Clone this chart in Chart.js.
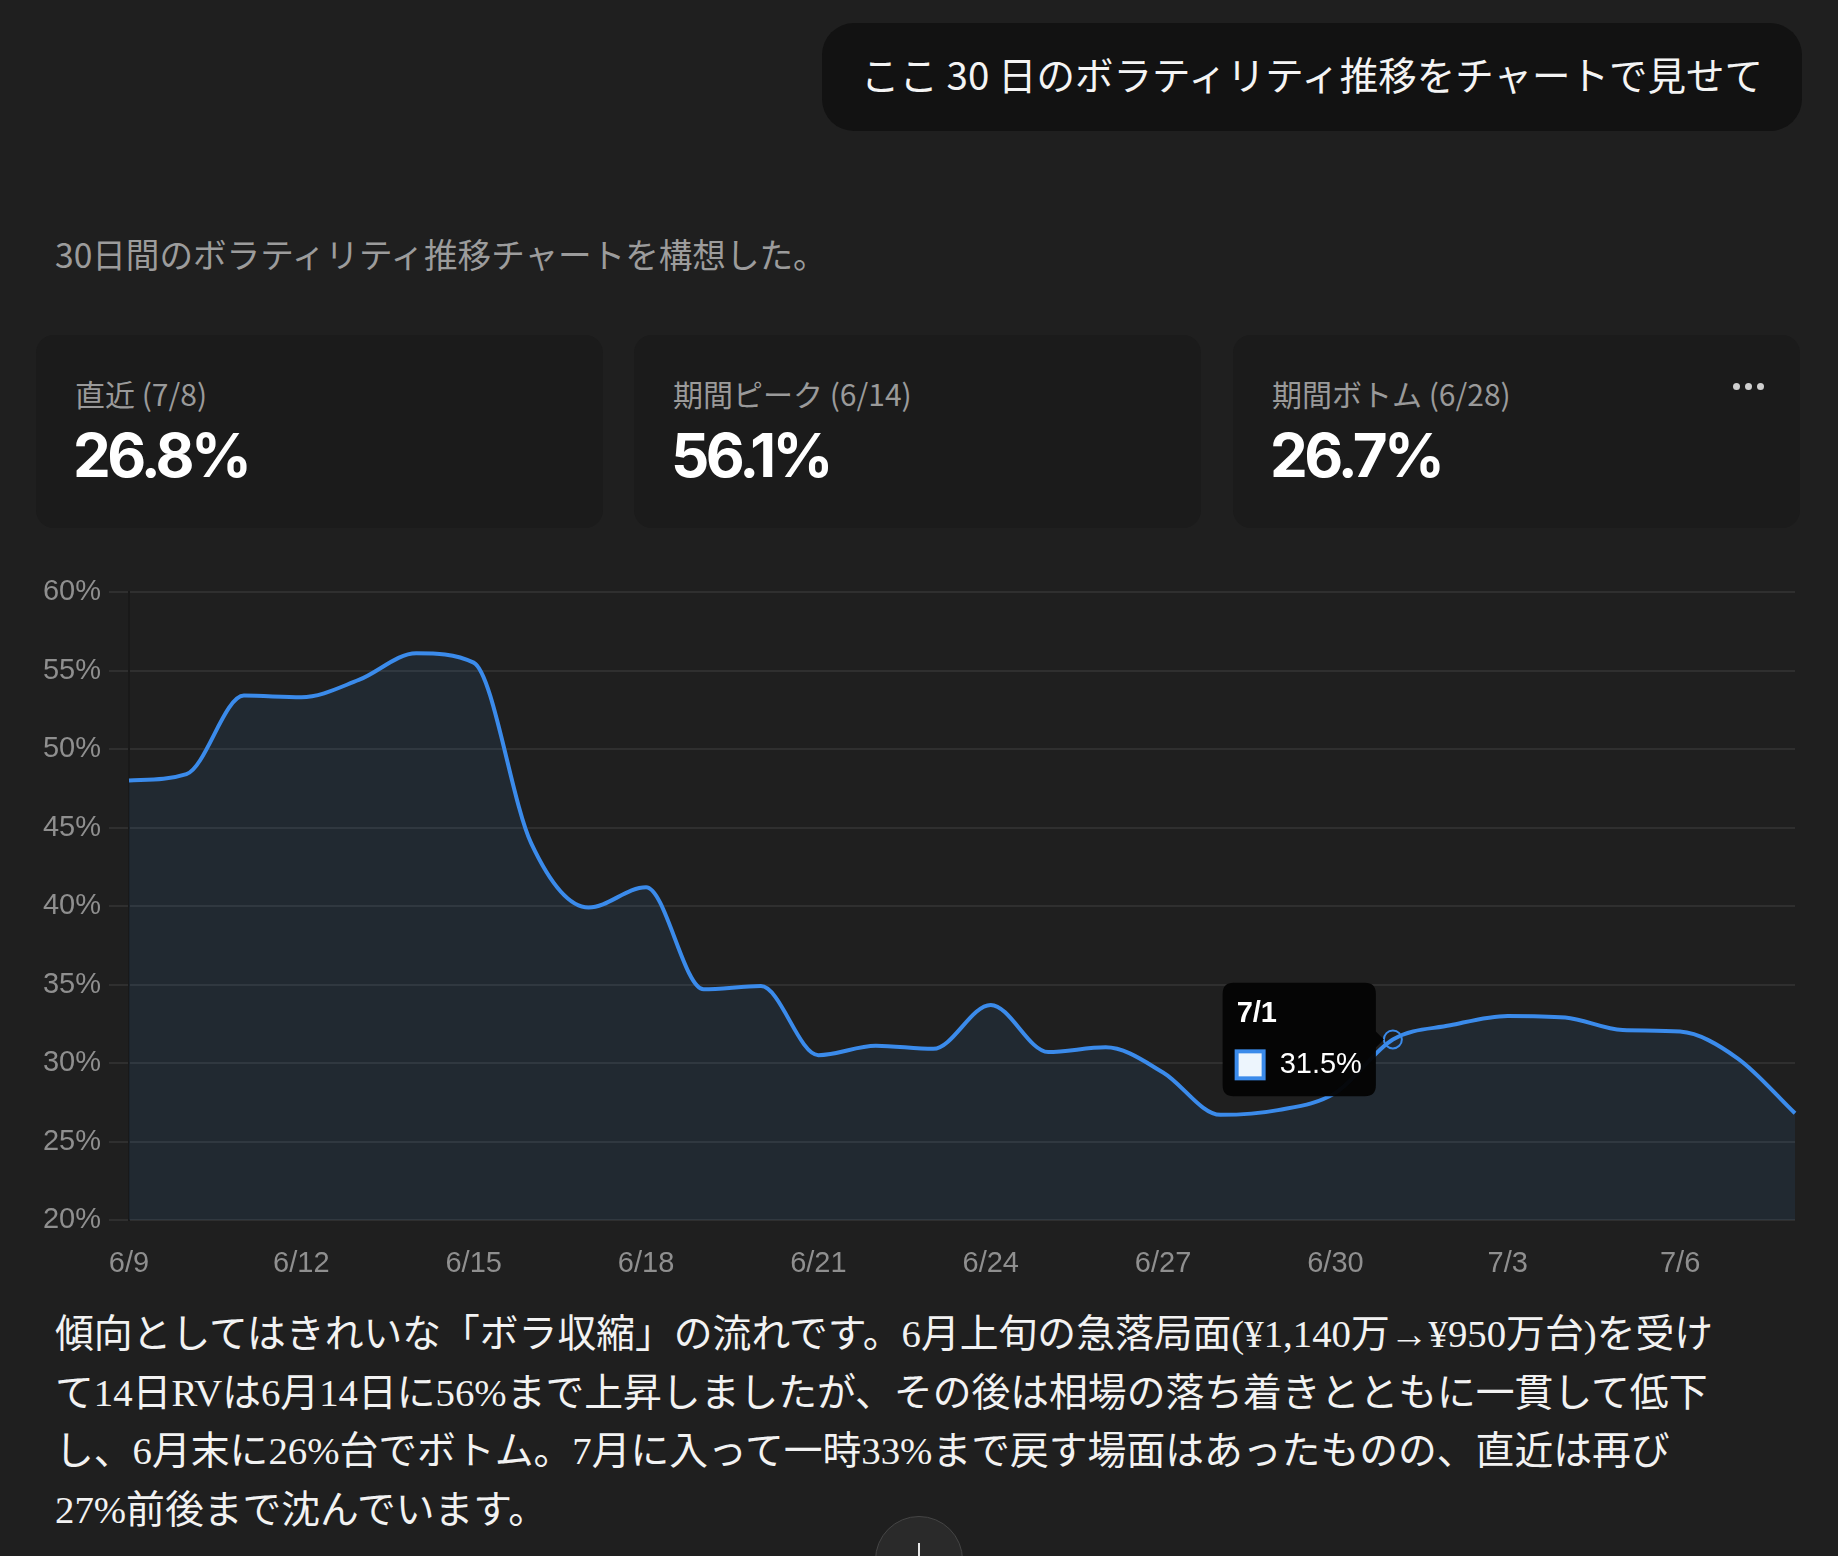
<!DOCTYPE html>
<html lang="ja">
<head>
<meta charset="utf-8">
<title>ボラティリティ推移</title>
<script src="https://cdn.jsdelivr.net/npm/chart.js"></script>
<style>
  html, body { margin: 0; padding: 0; }
  body {
    width: 1838px; height: 1556px; overflow: hidden; position: relative;
    background: #1f1f1f; color: #f2f2f2;
    font-family: "Noto Sans CJK JP", "Noto Sans", sans-serif;
  }
  .bubble {
    position: absolute; left: 822px; top: 23px; width: 980px; height: 108px;
    background: #121212; border-radius: 32px;
    font-size: 38.5px; line-height: 100px; text-align: center; color: #f4f4f4;
    white-space: nowrap;
  }
  .lead {
    position: absolute; left: 55px; top: 230px;
    font-size: 33.6px; line-height: 48px; color: #9c9c9c; white-space: nowrap;
  }
  .card {
    position: absolute; top: 335px; width: 567px; height: 193px;
    background: #1b1b1b; border-radius: 18px;
  }
  .card .lbl {
    position: absolute; left: 39px; top: 38px;
    font-size: 30px; line-height: 40px; color: #9a9a9a; white-space: nowrap;
  }
  .card .val {
    position: absolute; left: 37px; top: 84px;
    font-family: Inter, "Noto Sans", sans-serif; font-weight: 700;
    font-size: 60px; line-height: 72px; letter-spacing: -3.6px; color: #ffffff;
  }
  .dots { position: absolute; right: 36px; top: 36px; }
  .dots span {
    display: inline-block; width: 7px; height: 7px; border-radius: 50%;
    background: #cfcfcf; margin-left: 5px;
  }
  #chart-box { position: absolute; left: 0; top: 560px; width: 1838px; height: 720px; }
  .note {
    position: absolute; left: 55px; top: 1305px;
    font-family: "Liberation Serif", "Noto Sans CJK JP", serif;
    font-size: 38.8px; line-height: 58.5px; color: #f2f2f2; white-space: nowrap;
  }
  .down {
    position: absolute; left: 875px; top: 1516px; width: 86px; height: 86px;
    border-radius: 50%; background: #2a2a2a; border: 1px solid #454545;
  }
  .down:after {
    content: ""; position: absolute; left: 42px; top: 26px; width: 2px; height: 40px; background: #e8e8e8;
  }
</style>
</head>
<body>

<div class="bubble">ここ 30 日のボラティリティ推移をチャートで見せて</div>
<div class="lead">30日間のボラティリティ推移チャートを構想した。</div>

<div class="card" style="left:36px">
  <div class="lbl">直近 (7/8)</div>
  <div class="val">26.8%</div>
</div>
<div class="card" style="left:634px">
  <div class="lbl">期間ピーク (6/14)</div>
  <div class="val">56.1%</div>
</div>
<div class="card" style="left:1233px">
  <div class="lbl">期間ボトム (6/28)</div>
  <div class="val">26.7%</div>
  <div class="dots"><span></span><span></span><span></span></div>
</div>

<div id="chart-box"><canvas id="vol_chart_canvas"></canvas></div>

<div class="note">傾向としてはきれいな「ボラ収縮」の流れです。6月上旬の急落局面(¥1,140万→¥950万台)を受け<br>て14日RVは6月14日に56%まで上昇しましたが、その後は相場の落ち着きとともに一貫して低下<br>し、6月末に26%台でボトム。7月に入って一時33%まで戻す場面はあったものの、直近は再び<br>27%前後まで沈んでいます。</div>

<div class="down"></div>

<script>
// dates (6/9 - 7/8)
var dates = ["6/9","6/10","6/11","6/12","6/13","6/14","6/15","6/16","6/17","6/18",
	"6/19","6/20","6/21","6/22","6/23","6/24","6/25","6/26","6/27","6/28",
	"6/29","6/30","7/1","7/2","7/3","7/4","7/5","7/6","7/7","7/8"];

// 14-day realized volatility, %
var vol_values = [48.0, 48.4, 53.4, 53.3, 54.4, 56.1, 55.5, 44.0, 39.9, 41.2,
	34.7, 34.9, 30.5, 31.1, 30.9, 33.7, 30.7, 31.0, 29.4, 26.7,
	27.0, 28.1, 31.5, 32.4, 33.0, 32.9, 32.1, 32.0, 30.3, 26.8];

// y axis
var y_min = 20;
var y_max = 60;
var y_step = 5;

// tooltip shown on this date
var active_date = "7/1";

var line_color = "#3b8beb";
var tick_color = "#8f8f8f";
var tick_font = { family: "'Liberation Sans', Arial, sans-serif", size: 29 };

var vol_canvas = document.getElementById("vol_chart_canvas");

var vol_chart = new Chart(vol_canvas, {
	type: 'line',
	data: {
		labels: dates,
		datasets: [
			{
				label: "14日RV",
				data: vol_values,
				borderColor: line_color,
				backgroundColor: "rgba(59,139,235,0.09)",
				borderWidth: 4,
				fill: 'origin',
				cubicInterpolationMode: 'monotone',
				pointRadius: 0,
				pointHoverRadius: 9,
				pointHoverBorderWidth: 2,
				pointHoverBorderColor: line_color,
				pointHoverBackgroundColor: "rgba(0,0,0,0)"
			}
		]
	},
	options: {
		responsive: true,
		maintainAspectRatio: false,
		animation: false,
		layout: { padding: { top: 32, right: 43, left: 0, bottom: 0 } },
		interaction: { mode: 'index', intersect: false },
		plugins: {
			legend: { display: false },
			tooltip: {
				xAlign: 'right',
				yAlign: 'center',
				backgroundColor: "rgba(4,4,4,0.97)",
				titleColor: "#ffffff",
				bodyColor: "#ffffff",
				titleFont: { family: "'Liberation Sans', Arial, sans-serif", size: 29, weight: 'bold' },
				bodyFont: { family: "'Liberation Sans', Arial, sans-serif", size: 29 },
				titleMarginBottom: 16,
				padding: 14,
				cornerRadius: 11,
				caretSize: 8,
				caretPadding: 9,
				boxWidth: 27,
				boxHeight: 27,
				boxPadding: 14,
				callbacks: {
					label: function(ctx){
						return ctx.parsed.y.toFixed(1) + "%";
					}
				}
			}
		},
		scales: {
			x: {
				grid: { display: false },
				border: { display: false },
				afterFit: function(scale){ scale.height = 60; },
				ticks: {
					autoSkip: false,
					maxRotation: 0,
					padding: 19,
					color: tick_color,
					font: tick_font,
					callback: function(val, i){
						return i % 3 === 0 ? dates[i] : "";
					}
				}
			},
			y: {
				min: y_min,
				max: y_max,
				afterFit: function(scale){ scale.width = 129; },
				grid: { color: "rgba(255,255,255,0.075)", lineWidth: 2, tickLength: 20 },
				border: { color: "#191919", width: 2 },
				ticks: {
					stepSize: y_step,
					padding: 8,
					color: tick_color,
					font: tick_font,
					callback: function(val){
						return val + "%";
					}
				}
			}
		}
	}
});

var active_index = dates.indexOf(active_date);
var active_point = vol_chart.getDatasetMeta(0).data[active_index];
vol_chart.setActiveElements([{ datasetIndex: 0, index: active_index }]);
vol_chart.tooltip.setActiveElements([{ datasetIndex: 0, index: active_index }], { x: active_point.x, y: active_point.y });
vol_chart.update();
</script>
</body>
</html>
